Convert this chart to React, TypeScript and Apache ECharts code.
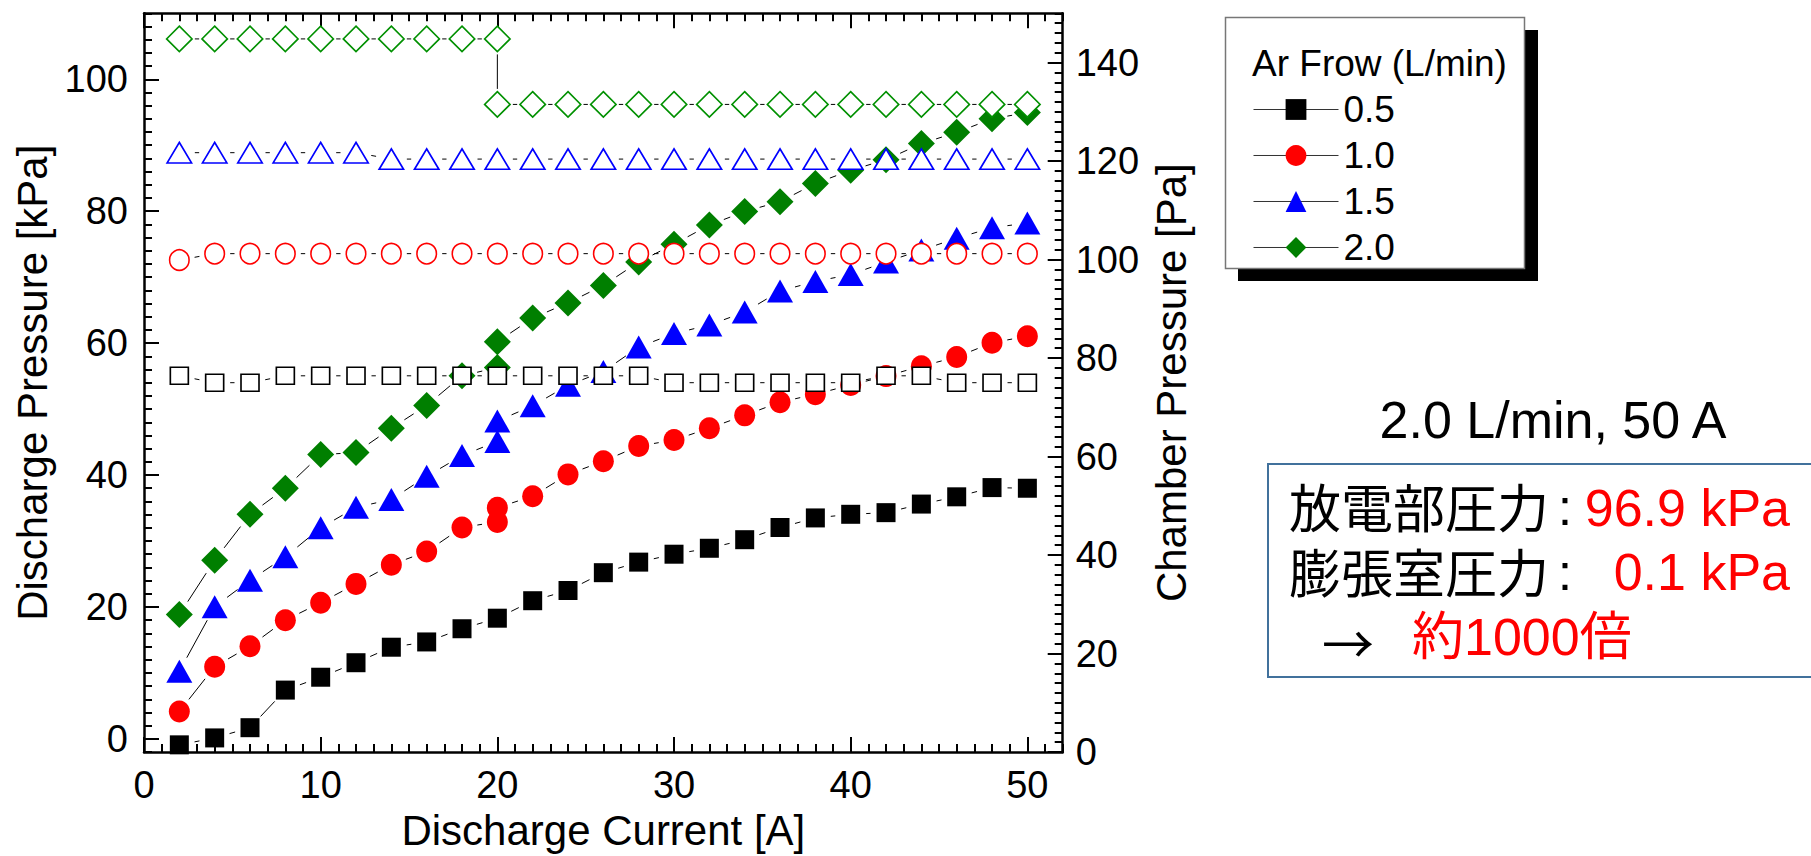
import React, { useEffect, useRef } from "react";
import * as echarts from "echarts";

// ---- Data ----
const currentA = [2, 4, 6, 8, 10, 12, 14, 16, 18, 20, 22, 24, 26, 28, 30, 32, 34, 36, 38, 40, 42, 44, 46, 48, 50];
const currentDup = [2, 4, 6, 8, 10, 12, 14, 16, 18, 20, 20, 22, 24, 26, 28, 30, 32, 34, 36, 38, 40, 42, 44, 46, 48, 50];

// Discharge pressure [kPa] (filled markers, left axis)
const discharge05 = [-0.9, 0.15, 1.7, 7.4, 9.35, 11.55, 13.9, 14.7, 16.7, 18.3, 20.95, 22.5, 25.2, 26.8, 28.0, 28.9, 30.2, 32.05, 33.5, 34.05, 34.3, 35.6, 36.7, 38.1, 38.0];
const discharge10 = [4.15, 10.95, 14.05, 18.0, 20.65, 23.5, 26.4, 28.4, 32.05, 32.9, 35.05, 36.8, 40.1, 42.1, 44.4, 45.3, 47.1, 49.05, 51.05, 52.25, 53.65, 55.0, 56.5, 57.9, 60.05, 61.05];
const discharge15 = [10.25, 20.05, 24.05, 27.6, 32.0, 35.1, 36.3, 39.8, 42.95, 45.1, 48.2, 50.5, 53.6, 55.7, 59.4, 61.45, 62.75, 64.7, 67.9, 69.35, 70.4, 72.3, 74.1, 75.9, 77.5, 78.2];
const discharge20 = [18.85, 27.1, 34.05, 38.0, 43.1, 43.4, 47.1, 50.55, 55.05, 56.3, 60.2, 63.8, 66.1, 68.75, 72.3, 75.0, 77.9, 79.95, 81.45, 84.2, 86.2, 87.8, 90.25, 91.95, 94.0, 94.95];

// Chamber pressure [Pa] (open markers, right axis)
const chamber05 = [76.4, 75.0, 75.0, 76.4, 76.4, 76.4, 76.4, 76.4, 76.4, 76.4, 76.4, 76.4, 76.4, 76.4, 75.0, 75.0, 75.0, 75.0, 75.0, 75.0, 76.4, 76.4, 75.0, 75.0, 75.0];
const chamber10 = [99.9, 101.2, 101.2, 101.2, 101.2, 101.2, 101.2, 101.2, 101.2, 101.2, 101.2, 101.2, 101.2, 101.2, 101.2, 101.2, 101.2, 101.2, 101.2, 101.2, 101.2, 101.2, 101.2, 101.2, 101.2];
const chamber15 = [121.7, 121.7, 121.7, 121.7, 121.7, 121.7, 120.4, 120.4, 120.4, 120.4, 120.4, 120.4, 120.4, 120.4, 120.4, 120.4, 120.4, 120.4, 120.4, 120.4, 120.4, 120.4, 120.4, 120.4, 120.4];
const chamber20 = [144.8, 144.8, 144.8, 144.8, 144.8, 144.8, 144.8, 144.8, 144.8, 144.8, 131.5, 131.5, 131.5, 131.5, 131.5, 131.5, 131.5, 131.5, 131.5, 131.5, 131.5, 131.5, 131.5, 131.5, 131.5, 131.5];

const flowNames = ["0.5", "1.0", "1.5", "2.0"];
const legendTitle = "Ar Frow (L/min)";

// Ticks
const xMajorTicks = [0, 10, 20, 30, 40, 50];
const leftMajorTicks = [0, 20, 40, 60, 80, 100];
const rightMajorTicks = [0, 20, 40, 60, 80, 100, 120, 140];
const xMinorTicks: number[] = [];
for (let v = 1; v <= 52; v += 1) xMinorTicks.push(v);
const leftMinorTicks: number[] = [];
for (let v = -2; v <= 110; v += 2) leftMinorTicks.push(v);
const rightMinorTicks: number[] = [];
for (let v = 0; v <= 150; v += 2) rightMinorTicks.push(v);

const LATIN = "'Liberation Sans', Arial, 'Noto Sans CJK JP', sans-serif";
const CJK = "'Noto Sans CJK JP', 'Liberation Sans', sans-serif";

const LINK_GAP = 15.5; // px gap left around each marker by the connecting line

const zip = (xs: number[], ys: number[]) => xs.map((x, i) => [x, ys[i]]);

function segmentsOf(xs: number[], ys: number[]) {
  const segs: number[][] = [];
  for (let i = 0; i < xs.length - 1; i++) segs.push([xs[i], ys[i], xs[i + 1], ys[i + 1]]);
  return segs;
}

// Connecting line drawn with a gap around each symbol (as in the original plot)
function makeLinkSeries(name: string, xs: number[], ys: number[], yAxisIndex: number) {
  return {
    name: name + " link",
    type: "custom",
    xAxisIndex: 0,
    yAxisIndex,
    data: segmentsOf(xs, ys),
    encode: { x: [0, 2], y: [1, 3] },
    silent: true,
    clip: false,
    renderItem: (_params: any, api: any) => {
      const a = api.coord([api.value(0), api.value(1)]);
      const b = api.coord([api.value(2), api.value(3)]);
      const dx = b[0] - a[0];
      const dy = b[1] - a[1];
      const len = Math.hypot(dx, dy);
      if (len <= 2 * LINK_GAP + 0.5) return null;
      const ux = dx / len;
      const uy = dy / len;
      return {
        type: "line",
        shape: {
          x1: a[0] + ux * LINK_GAP,
          y1: a[1] + uy * LINK_GAP,
          x2: b[0] - ux * LINK_GAP,
          y2: b[1] - uy * LINK_GAP,
        },
        style: { stroke: "#000", lineWidth: 1 },
      };
    },
  };
}

function makeMarkerSeries(
  name: string,
  xs: number[],
  ys: number[],
  yAxisIndex: number,
  symbol: string,
  size: number[],
  color: string,
  filled: boolean
) {
  return {
    name,
    type: "line",
    xAxisIndex: 0,
    yAxisIndex,
    data: zip(xs, ys),
    symbol,
    symbolSize: size,
    showSymbol: true,
    showAllSymbol: true,
    clip: false,
    lineStyle: { color: "#000", width: 0, opacity: 0 },
    itemStyle: filled
      ? { color, borderWidth: 0 }
      : { color: "#ffffff", borderColor: color, borderWidth: 1.6 },
    emphasis: { disabled: true },
    silent: true,
  };
}

const tickLine = { color: "#000", width: 2 };
const axisLineStyle = { show: true, onZero: false, lineStyle: { color: "#000", width: 2.5 } };
const noLine = { show: false, onZero: false };

function buildOption() {
  const xBase = { type: "value", min: 0, max: 52, splitLine: { show: false }, gridIndex: 0 };
  const leftBase = { type: "value", min: -2, max: 110, splitLine: { show: false }, gridIndex: 0 };
  const rightBase = { type: "value", min: 0, max: 150, splitLine: { show: false }, gridIndex: 0 };

  const series: any[] = [];
  const add = (
    name: string, xs: number[], ys: number[], yAxisIndex: number,
    symbol: string, size: number[], color: string, filled: boolean
  ) => {
    series.push(makeLinkSeries(name, xs, ys, yAxisIndex));
    series.push(makeMarkerSeries(name, xs, ys, yAxisIndex, symbol, size, color, filled));
  };
  add(flowNames[0], currentA, discharge05, 0, "rect", [19, 19], "#000000", true);
  add(flowNames[1], currentDup, discharge10, 0, "circle", [21, 22], "#ff0000", true);
  add(flowNames[2], currentDup, discharge15, 0, "triangle", [26, 23], "#0000ff", true);
  add(flowNames[3], currentDup, discharge20, 0, "diamond", [27, 27], "#007f00", true);
  add("chamber 0.5", currentA, chamber05, 2, "rect", [18, 17], "#000000", false);
  add("chamber 1.0", currentA, chamber10, 2, "circle", [19.5, 20.5], "#ff0000", false);
  add("chamber 1.5", currentA, chamber15, 2, "triangle", [24.5, 20.5], "#0000ff", false);
  add("chamber 2.0", currentDup, chamber20, 2, "diamond", [25.5, 25.5], "#009000", false);

  return {
    animation: false,
    backgroundColor: "#ffffff",
    grid: { left: 144, top: 13.3, width: 918.7, height: 744.4, containLabel: false },
    xAxis: [
      {
        ...xBase,
        position: "bottom",
        axisLine: axisLineStyle,
        axisTick: { show: true, inside: true, length: 15, customValues: xMajorTicks, lineStyle: tickLine },
        axisLabel: { show: true, customValues: xMajorTicks, fontSize: 38, color: "#000", margin: 14, fontFamily: LATIN },
        name: "Discharge Current [A]",
        nameLocation: "middle",
        nameGap: 56,
        nameTextStyle: { fontSize: 42, color: "#000", fontFamily: LATIN },
      },
      {
        ...xBase,
        position: "bottom",
        axisLine: noLine,
        axisTick: { show: true, inside: true, length: 8, customValues: xMinorTicks, lineStyle: tickLine },
        axisLabel: { show: false },
      },
      {
        ...xBase,
        position: "top",
        axisLine: axisLineStyle,
        axisTick: { show: true, inside: true, length: 15, customValues: xMajorTicks, lineStyle: tickLine },
        axisLabel: { show: false },
      },
      {
        ...xBase,
        position: "top",
        axisLine: noLine,
        axisTick: { show: true, inside: true, length: 8, customValues: xMinorTicks, lineStyle: tickLine },
        axisLabel: { show: false },
      },
    ],
    yAxis: [
      {
        ...leftBase,
        position: "left",
        axisLine: axisLineStyle,
        axisTick: { show: true, inside: true, length: 15, customValues: leftMajorTicks, lineStyle: tickLine },
        axisLabel: { show: true, customValues: leftMajorTicks, fontSize: 38, color: "#000", margin: 16, fontFamily: LATIN },
        name: "Discharge Pressure [kPa]",
        nameLocation: "middle",
        nameGap: 86,
        nameRotate: 90,
        nameTextStyle: { fontSize: 42, color: "#000", fontFamily: LATIN },
      },
      {
        ...leftBase,
        position: "left",
        axisLine: noLine,
        axisTick: { show: true, inside: true, length: 8, customValues: leftMinorTicks, lineStyle: tickLine },
        axisLabel: { show: false },
      },
      {
        ...rightBase,
        position: "right",
        axisLine: axisLineStyle,
        axisTick: { show: true, inside: true, length: 15, customValues: rightMajorTicks, lineStyle: tickLine },
        axisLabel: { show: true, customValues: rightMajorTicks, fontSize: 38, color: "#000", margin: 13, fontFamily: LATIN },
        name: "Chamber Pressure [Pa]",
        nameLocation: "middle",
        nameGap: 88,
        nameRotate: 90,
        nameTextStyle: { fontSize: 42, color: "#000", fontFamily: LATIN },
      },
      {
        ...rightBase,
        position: "right",
        axisLine: noLine,
        axisTick: { show: true, inside: true, length: 8, customValues: rightMinorTicks, lineStyle: tickLine },
        axisLabel: { show: false },
      },
    ],
    legend: {
      data: flowNames,
      orient: "vertical",
      left: 1253,
      top: 91,
      padding: 0,
      itemWidth: 85,
      itemHeight: 26,
      itemGap: 9,
      selectedMode: false,
      lineStyle: { color: "#333", width: 1, opacity: 1 },
      textStyle: { fontSize: 37, color: "#000", fontFamily: LATIN },
      z: 10,
    },
    graphic: [
      { type: "rect", z: 1, shape: { x: 1238, y: 30, width: 300, height: 251 }, style: { fill: "#000" } },
      { type: "rect", z: 2, shape: { x: 1225.5, y: 17.5, width: 299, height: 251 }, style: { fill: "#fff", stroke: "#777", lineWidth: 1.5 } },
      { type: "text", z: 3, style: { x: 1252, y: 63, text: legendTitle, fill: "#000", fontSize: 37, fontFamily: LATIN, textAlign: "left", textVerticalAlign: "middle" } },
      { type: "text", z: 3, style: { x: 1553, y: 420, text: "2.0 L/min, 50 A", fill: "#000", fontSize: 52, fontFamily: LATIN, textAlign: "center", textVerticalAlign: "middle" } },
      { type: "rect", z: 2, shape: { x: 1268, y: 464, width: 560, height: 213 }, style: { fill: "#fff", stroke: "#41719c", lineWidth: 2 } },
      { type: "text", z: 3, style: { x: 1289, y: 510, text: "放電部圧力", fill: "#000", fontSize: 52, fontFamily: LATIN, textAlign: "left", textVerticalAlign: "middle" } },
      { type: "text", z: 3, style: { x: 1565, y: 507, text: ":", fill: "#000", fontSize: 52, fontFamily: LATIN, textAlign: "center", textVerticalAlign: "middle" } },
      { type: "text", z: 3, style: { x: 1790, y: 508, text: "96.9 kPa", fill: "#ff0000", fontSize: 52, fontFamily: LATIN, textAlign: "right", textVerticalAlign: "middle" } },
      { type: "text", z: 3, style: { x: 1289, y: 575, text: "膨張室圧力", fill: "#000", fontSize: 52, fontFamily: LATIN, textAlign: "left", textVerticalAlign: "middle" } },
      { type: "text", z: 3, style: { x: 1565, y: 572, text: ":", fill: "#000", fontSize: 52, fontFamily: LATIN, textAlign: "center", textVerticalAlign: "middle" } },
      { type: "text", z: 3, style: { x: 1790, y: 572, text: "0.1 kPa", fill: "#ff0000", fontSize: 52, fontFamily: LATIN, textAlign: "right", textVerticalAlign: "middle" } },
      { type: "text", z: 3, style: { x: 1348, y: 641, text: "→", fill: "#000", fontSize: 52, fontFamily: CJK, textAlign: "center", textVerticalAlign: "middle" } },
      { type: "text", z: 3, style: { x: 1412, y: 637, text: "約1000倍", fill: "#ff0000", fontSize: 52, fontFamily: LATIN, textAlign: "left", textVerticalAlign: "middle" } },
    ],
    series,
  };
}

export default function App() {
  const ref = useRef<HTMLDivElement>(null);
  useEffect(() => {
    if (!ref.current) return;
    const chart = echarts.init(ref.current, undefined, { renderer: "svg" });
    chart.setOption(buildOption() as any);
    return () => {
      chart.dispose();
    };
  }, []);
  return (
    <div
      ref={ref}
      style={{ position: "fixed", left: 0, top: 0, width: 1811, height: 856, background: "#fff" }}
    />
  );
}
